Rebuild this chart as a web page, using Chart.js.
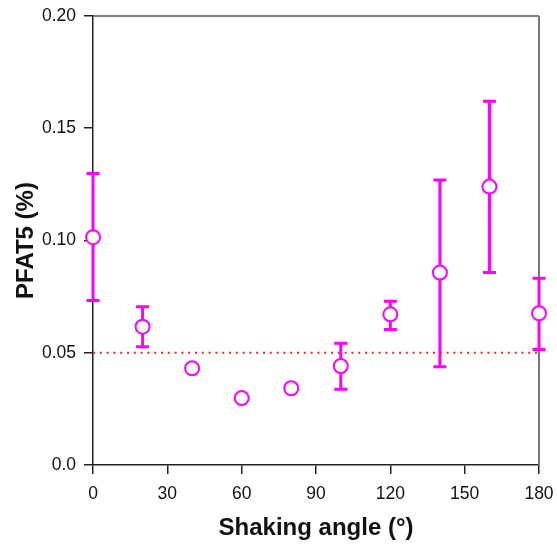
<!DOCTYPE html>
<html>
<head>
<meta charset="utf-8">
<script src="https://cdn.jsdelivr.net/npm/chart.js@4.4.0/dist/chart.umd.min.js"></script>
<style>
  html, body { margin: 0; padding: 0; background: #fff; }
  #wrap { width: 557px; height: 547px; }
</style>
</head>
<body>
<div id="wrap"><canvas id="chart" width="557" height="547"></canvas></div>
<script>
// data
const angles = [0, 20, 40, 60, 80, 100, 120, 140, 160, 180];
const pfat5 = [0.1015, 0.0616, 0.0431, 0.0298, 0.0342, 0.0441, 0.0671, 0.0857, 0.124, 0.0676];
const errHigh = [0.1298, 0.0705, null, null, null, 0.0542, 0.0729, 0.127, 0.162, 0.0832];
const errLow = [0.0733, 0.0527, null, null, null, 0.0337, 0.0604, 0.0438, 0.0858, 0.0515];
const xTicks = [0, 30, 60, 90, 120, 150, 180];
const yTickLabels = ['0.0', '0.05', '0.10', '0.15', '0.20'];
const refLevel = 0.05;

const magenta = '#ff00ff';
const FONT = 'Arial, "Liberation Sans", Helvetica, sans-serif';

// box on top and right, drawn under the marks
const framePlugin = {
    id: 'frame',
    beforeDatasetsDraw(chart) {
        const { ctx, chartArea: a } = chart;
        ctx.save();
        ctx.lineWidth = 1.5;
        ctx.strokeStyle = '#555';
        ctx.beginPath();
        ctx.moveTo(a.left, a.top);
        ctx.lineTo(a.right, a.top);
        ctx.stroke();
        ctx.lineWidth = 2;
        ctx.strokeStyle = '#777';
        ctx.beginPath();
        ctx.moveTo(a.right, a.top);
        ctx.lineTo(a.right, a.bottom);
        ctx.stroke();
        ctx.restore();
    }
};

// vertical error bars with caps
const errorBarPlugin = {
    id: 'errorBars',
    beforeDatasetsDraw(chart) {
        const { ctx } = chart;
        const xs = chart.scales.x, ys = chart.scales.y;
        ctx.save();
        ctx.strokeStyle = magenta;
        ctx.lineWidth = 3;
        for (let i = 0; i < angles.length; i++) {
            if (errHigh[i] == null) continue;
            const px = xs.getPixelForValue(angles[i]);
            const top = ys.getPixelForValue(errHigh[i]);
            const bot = ys.getPixelForValue(errLow[i]);
            ctx.beginPath();
            ctx.moveTo(px, top);
            ctx.lineTo(px, bot);
            ctx.moveTo(px - 6.5, top);
            ctx.lineTo(px + 6.5, top);
            ctx.moveTo(px - 6.5, bot);
            ctx.lineTo(px + 6.5, bot);
            ctx.stroke();
        }
        ctx.restore();
    }
};

new Chart(document.getElementById('chart'), {
    type: 'scatter',
    data: {
        datasets: [{
            label: 'ref',
            type: 'line',
            data: [{ x: 0, y: refLevel }, { x: 180, y: refLevel }],
            borderColor: '#ff2020',
            borderWidth: 2,
            borderDash: [2, 4.8],
            pointRadius: 0,
            fill: false,
            clip: false
        }, {
            label: 'PFAT5',
            data: angles.map((a, i) => ({ x: a, y: pfat5[i] })),
            pointStyle: 'circle',
            pointRadius: 7,
            pointBorderWidth: 2,
            pointBorderColor: magenta,
            pointBackgroundColor: '#fff',
            clip: false
        }]
    },
    options: {
        responsive: false,
        animation: false,
        layout: { padding: { left: 0, right: 18, top: 16, bottom: 0 } },
        plugins: {
            legend: { display: false },
            tooltip: { enabled: false }
        },
        scales: {
            x: {
                type: 'linear',
                min: 0,
                max: 180,
                afterBuildTicks(scale) {
                    scale.ticks = xTicks.map(v => ({ value: v }));
                },
                afterFit(scale) {
                    scale.height = 82;
                    scale.paddingLeft = 0;
                    scale.paddingRight = 0;
                },
                border: { color: '#222', width: 1.5 },
                grid: { drawOnChartArea: false, drawTicks: true, tickLength: 9, color: '#222', lineWidth: 1.5 },
                ticks: {
                    color: '#111',
                    font: { family: FONT, size: 17.5 },
                    padding: 10,
                    maxRotation: 0
                },
                title: {
                    display: true,
                    text: 'Shaking angle (°)',
                    color: '#111',
                    font: { family: FONT, size: 24, weight: 'bold' },
                    padding: { bottom: 4 }
                }
            },
            y: {
                min: 0,
                max: 0.2,
                afterBuildTicks(scale) {
                    scale.ticks = yTickLabels.map((t, i) => ({ value: i * 0.05 }));
                },
                afterFit(scale) {
                    scale.width = 93;
                    scale.paddingTop = 0;
                    scale.paddingBottom = 0;
                },
                border: { color: '#222', width: 1.5 },
                grid: { drawOnChartArea: false, drawTicks: true, tickLength: 9, color: '#222', lineWidth: 1.5 },
                ticks: {
                    color: '#111',
                    font: { family: FONT, size: 17.5 },
                    padding: 8,
                    callback: (v, i) => yTickLabels[i]
                },
                title: {
                    display: true,
                    text: 'PFAT5 (%)',
                    color: '#111',
                    font: { family: FONT, size: 24, weight: 'bold' },
                    padding: { top: 12 }
                }
            }
        }
    },
    plugins: [framePlugin, errorBarPlugin]
});
</script>
</body>
</html>
